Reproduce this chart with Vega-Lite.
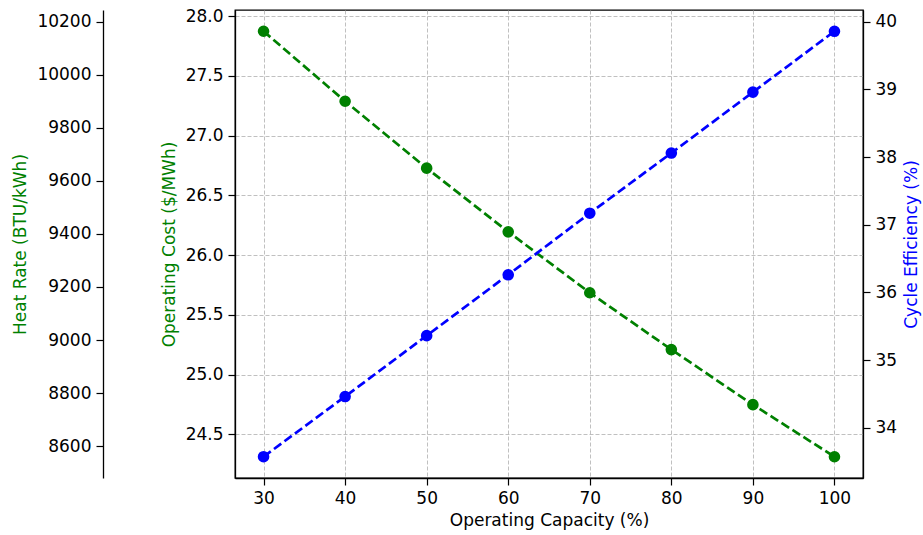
{
  "$schema": "https://vega.github.io/schema/vega-lite/v6.json",
  "width": 628,
  "height": 468,
  "autosize": {"type": "none"},
  "padding": {"left": 235, "top": 10, "right": 60, "bottom": 57},
  "background": "white",
  "config": {
    "view": {"stroke": "black", "strokeWidth": 1.3},
    "axis": {
      "labelFont": "DejaVu Sans",
      "labelFontSize": 17,
      "labelColor": "black",
      "titleFont": "DejaVu Sans",
      "titleFontSize": 17,
      "titleFontWeight": "normal",
      "domainColor": "black",
      "domainWidth": 1.3,
      "tickColor": "black",
      "tickSize": 7,
      "tickWidth": 1.2,
      "labelPadding": 5,
      "gridColor": "#b0b0b0",
      "gridDash": [4, 2],
      "gridWidth": 0.8
    }
  },
  "data": {
    "values": [
      {"cap": 30, "cost": 27.874, "hr": 10164, "eff": 33.57},
      {"cap": 40, "cost": 27.288, "hr": 9902, "eff": 34.46},
      {"cap": 50, "cost": 26.728, "hr": 9650, "eff": 35.36},
      {"cap": 60, "cost": 26.195, "hr": 9410, "eff": 36.26},
      {"cap": 70, "cost": 25.685, "hr": 9180, "eff": 37.17},
      {"cap": 80, "cost": 25.209, "hr": 8965, "eff": 38.06},
      {"cap": 90, "cost": 24.748, "hr": 8758, "eff": 38.96},
      {"cap": 100, "cost": 24.312, "hr": 8560, "eff": 39.86}
    ]
  },
  "encoding": {
    "x": {
      "field": "cap",
      "type": "quantitative",
      "scale": {"domain": [26.5, 103.5], "nice": false, "zero": false},
      "axis": {
        "values": [30, 40, 50, 60, 70, 80, 90, 100],
        "format": "d",
        "title": "Operating Capacity (%)",
        "titleColor": "black",
        "titlePadding": 6,
        "grid": true
      }
    }
  },
  "layer": [
    {
      "layer": [
        {
          "mark": {"type": "line", "color": "#008000", "strokeDash": [9, 4], "strokeWidth": 2.7}
        },
        {
          "mark": {"type": "point", "shape": "circle", "filled": true, "color": "#008000", "size": 135, "opacity": 1}
        }
      ],
      "encoding": {
        "y": {
          "field": "cost",
          "type": "quantitative",
          "scale": {"domain": [24.134, 28.052], "nice": false, "zero": false},
          "axis": {
            "orient": "left",
            "values": [24.5, 25.0, 25.5, 26.0, 26.5, 27.0, 27.5, 28.0],
            "format": ".1f",
            "title": "Operating Cost ($/MWh)",
            "titleColor": "#008000",
            "titlePadding": 7,
            "grid": true
          }
        }
      }
    },
    {
      "mark": {"type": "line", "color": "#008000", "strokeDash": [9, 4], "strokeWidth": 2.7, "opacity": 0},
      "encoding": {
        "y": {
          "field": "hr",
          "type": "quantitative",
          "scale": {"domain": [8479.8, 10244.2], "nice": false, "zero": false},
          "axis": {
            "orient": "left",
            "offset": 132,
            "values": [8600, 8800, 9000, 9200, 9400, 9600, 9800, 10000, 10200],
            "format": "d",
            "title": "Heat Rate (BTU/kWh)",
            "titleColor": "#008000",
            "titlePadding": 7,
            "grid": false
          }
        }
      }
    },
    {
      "layer": [
        {
          "mark": {"type": "line", "color": "#0000ff", "strokeDash": [9, 4], "strokeWidth": 2.7}
        },
        {
          "mark": {"type": "point", "shape": "circle", "filled": true, "color": "#0000ff", "size": 135, "opacity": 1}
        }
      ],
      "encoding": {
        "y": {
          "field": "eff",
          "type": "quantitative",
          "scale": {"domain": [33.2555, 40.1745], "nice": false, "zero": false},
          "axis": {
            "orient": "right",
            "values": [34, 35, 36, 37, 38, 39, 40],
            "format": "d",
            "title": "Cycle Efficiency (%)",
            "titleColor": "#0000ff",
            "titleAngle": 270,
            "titleBaseline": "bottom",
            "titlePadding": 24,
            "grid": false
          }
        }
      }
    }
  ],
  "resolve": {"scale": {"y": "independent"}, "axis": {"y": "independent"}}
}
